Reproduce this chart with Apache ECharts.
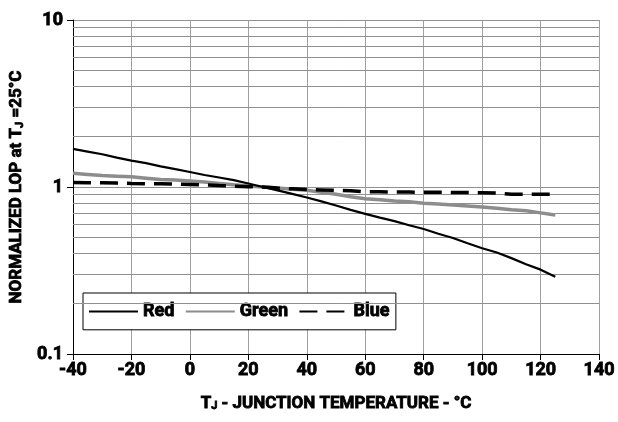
<!DOCTYPE html>
<html>
<head>
<meta charset="utf-8">
<script src="https://cdn.jsdelivr.net/npm/echarts@6/dist/echarts.min.js"></script>
<style>
html,body{margin:0;padding:0;background:#fff;}
#chart{width:618px;height:422px;}
</style>
</head>
<body>
<div id="chart"></div>
<script>
const temps = [-40,-35,-30,-25,-20,-15,-10,-5,0,5,10,15,20,25,30,35,40,45,50,55,60,65,70,75,80,85,90,95,100,105,110,115,120,125];
const redLOP = [1.69,1.63,1.57,1.50,1.44,1.39,1.33,1.28,1.23,1.18,1.14,1.10,1.05,1.00,0.955,0.91,0.865,0.82,0.775,0.73,0.69,0.655,0.625,0.59,0.56,0.525,0.495,0.46,0.43,0.405,0.375,0.345,0.32,0.29];
const greenLOP = [1.21,1.19,1.17,1.16,1.15,1.13,1.11,1.10,1.085,1.07,1.05,1.03,1.015,1.00,0.985,0.97,0.955,0.93,0.905,0.875,0.85,0.84,0.825,0.815,0.80,0.79,0.78,0.77,0.76,0.745,0.73,0.72,0.70,0.68];
const blueLOP = [1.065,1.062,1.06,1.055,1.05,1.047,1.045,1.04,1.035,1.03,1.02,1.012,1.005,1.00,0.985,0.975,0.965,0.96,0.955,0.95,0.935,0.935,0.933,0.932,0.93,0.929,0.928,0.926,0.925,0.92,0.905,0.905,0.905,0.905];
const seriesNames = ['Red','Green','Blue'];
const xTicks = {min:-40, max:140, interval:20};
const yRange = {min:0.1, max:10};
const minorGridValues = [0.2,0.3,0.4,0.5,0.6,0.7,0.8,0.9,2,3,4,5,6,7,8,9];

const FONT = "Roboto, 'Liberation Sans', sans-serif";
const heavy = {fontFamily:FONT,fontWeight:'bold',color:'#000',textBorderColor:'#000',textBorderWidth:0.8};
const pairs = arr => temps.map((t,i)=>[t, arr[i]]);
const nameRich = {
  b:Object.assign({fontSize:17,lineHeight:20,verticalAlign:'bottom'},heavy),
  s:Object.assign({fontSize:11,lineHeight:16,verticalAlign:'bottom'},heavy)
};

const chart = echarts.init(document.getElementById('chart'));
chart.setOption({
  animation:false,
  backgroundColor:'#fff',
  grid:{left:63,right:18,top:20,bottom:68},
  legend:{
    left:83, top:293,
    data:seriesNames,
    orient:'horizontal',
    itemWidth:49, itemHeight:14, itemGap:10,
    padding:[9,6,9,5],
    borderColor:'#000', borderWidth:1, backgroundColor:'#fff',
    itemStyle:{opacity:0},
    textStyle:Object.assign({fontSize:18},heavy)
  },
  xAxis:{
    type:'value', min:xTicks.min, max:xTicks.max, interval:xTicks.interval,
    axisLine:{show:true,onZero:false,lineStyle:{color:'#000',width:1}},
    axisTick:{show:true,length:6,lineStyle:{color:'#000'}},
    axisLabel:Object.assign({fontSize:18,margin:7},heavy),
    splitLine:{show:true,lineStyle:{color:'#a0a0a0',width:1}},
    name:'{b|T}{s|J}{b| - JUNCTION TEMPERATURE - °C}',
    nameLocation:'middle', nameGap:38,
    nameTextStyle:{rich:nameRich}
  },
  yAxis:{
    type:'log', logBase:10, min:yRange.min, max:yRange.max,
    axisLine:{show:true,onZero:false,lineStyle:{color:'#000',width:1}},
    axisTick:{show:true,length:6,lineStyle:{color:'#000'}},
    axisLabel:Object.assign({fontSize:18,margin:10,
      formatter:v=>String(+v.toPrecision(3))},heavy),
    splitLine:{show:true,lineStyle:{color:'#909090',width:1}},
    name:'{b|NORMALIZED LOP at T}{s|J}{b| =25°C}',
    nameLocation:'middle', nameGap:36,
    nameTextStyle:{rich:nameRich}
  },
  series:[
    {type:'line', name:'_grid', data:[], silent:true, z:1,
     markLine:{silent:true,symbol:['none','none'],label:{show:false},animation:false,
       lineStyle:{color:'#909090',width:1,type:'solid'},
       emphasis:{disabled:true},
       data:minorGridValues.map(v=>({yAxis:v}))}},
    {type:'line', name:seriesNames[0], data:pairs(redLOP), symbol:'none', z:5,
     lineStyle:{color:'#000',width:2.2}, itemStyle:{color:'#000'}},
    {type:'line', name:seriesNames[1], data:pairs(greenLOP), symbol:'none', z:4,
     lineStyle:{color:'#8c8c8c',width:3.5}, itemStyle:{color:'#8c8c8c'}},
    {type:'line', name:seriesNames[2], data:pairs(blueLOP), symbol:'none', z:6,
     lineStyle:{color:'#000',width:3.5,type:[18,9]}, itemStyle:{color:'#000'}}
  ]
});
</script>
</body>
</html>
